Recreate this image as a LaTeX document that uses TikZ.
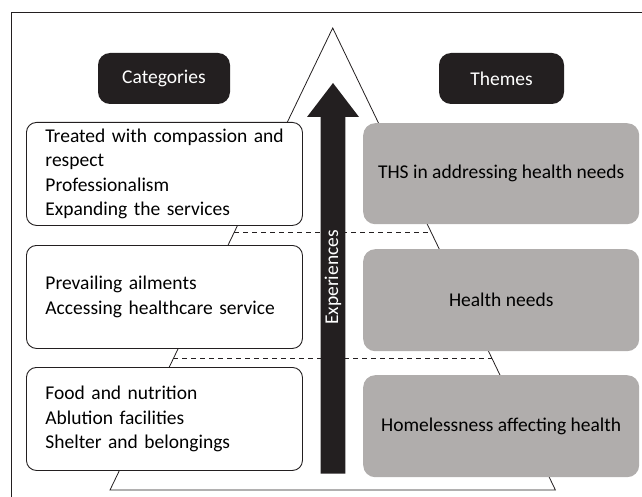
\documentclass[tikz,border=0pt]{standalone}
\usepackage{fontspec}
\setmainfont{Carlito}
\usetikzlibrary{calc}
\definecolor{boxblack}{HTML}{231F20}
\definecolor{themegray}{HTML}{B0ADAC}
\begin{document}
\begin{tikzpicture}[x=1pt,y=-1pt,
  txt/.style={font=\fontsize{19.5}{24.4}\selectfont},
  catbox/.style={txt, draw=boxblack, line width=0.9pt, fill=white, rounded corners=10pt,
    minimum width=276pt, minimum height=103pt, text width=244pt, align=left,
    inner xsep=16pt, inner ysep=0pt, anchor=north west},
  themebox/.style={txt, fill=themegray, rounded corners=12pt, minimum width=276pt,
    minimum height=102pt, align=center, inner sep=0pt, anchor=north west},
  headbox/.style={txt, fill=boxblack, text=white, rounded corners=12pt,
    minimum height=51pt, inner sep=0pt},
  tri/.style={draw=boxblack, line width=0.8pt},
  level/.style={draw=boxblack, line width=0.9pt, dash pattern=on 5pt off 4pt}
]
\useasboundingbox (0,0) rectangle (642,497);
% frame
\coordinate (ftl) at (11.7,12.3);
\coordinate (ftr) at (642,12.3);
\coordinate (fbl) at (11.7,497);
\draw[line width=1.1pt, draw=boxblack] (fbl) -- (ftl) -- (ftr);
% triangle
\coordinate (apex) at (332.7,28);
\coordinate (bl) at (110,490);
\coordinate (br) at (555.4,490);
\draw[tri] (bl) -- (apex) -- (br) -- cycle;
% level lines
\draw[level] ($(apex)!0.4416!(bl)$) -- ($(apex)!0.4416!(br)$);
\draw[level] ($(apex)!0.7158!(bl)$) -- ($(apex)!0.7158!(br)$);
% headers
\node[headbox, minimum width=132pt] (cat) at (164,78.5) {Categories};
\node[headbox, minimum width=125pt] (thm) at (501.5,78.5) {Themes};
% category boxes
\node[catbox] (c1) at (26,122) {\hspace*{3pt}Treated with compassion and\\\hspace*{3pt}respect\\\hspace*{3pt}Professionalism\\\hspace*{3pt}Expanding the services};
\node[catbox] (c2) at (26,245) {\hspace*{3pt}Prevailing ailments\\\hspace*{3pt}Accessing healthcare service};
\node[catbox] (c3) at (26,367) {\hspace*{3pt}Food and nutrition\\\hspace*{3pt}Ablution facilities\\\hspace*{3pt}Shelter and belongings};
% theme boxes
\node[themebox, minimum height=101pt] (t1) at (363,123) {THS in addressing health needs};
\node[themebox] (t2) at (363,249) {Health needs};
\node[themebox] (t3) at (363,375) {Homelessness affecting health};
% experiences arrow
\fill[boxblack] (320.7,473.7) -- (320.7,117) -- (307,117) -- (333,83) -- (359,117)
  -- (345.3,117) -- (345.3,473.7) -- cycle;
\node[txt, rotate=90, text=white, inner sep=0pt] (exp) at (333,277.5) {Experiences};
\end{tikzpicture}
\end{document}
